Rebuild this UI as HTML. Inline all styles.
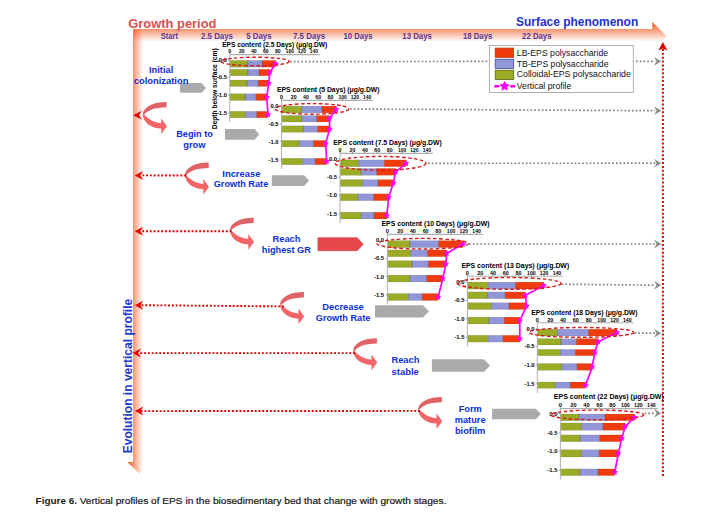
<!DOCTYPE html>
<html><head><meta charset="utf-8"><title>Figure 6</title>
<style>
html,body{margin:0;padding:0;background:#fff;}
body{width:718px;height:525px;overflow:hidden;}
svg{display:block;font-family:"Liberation Sans",sans-serif;}
</style></head>
<body>
<svg width="718" height="525" viewBox="0 0 718 525">
<defs>
<linearGradient id="gTop" gradientUnits="userSpaceOnUse" x1="0" y1="21.7" x2="0" y2="41.8">
 <stop offset="0" stop-color="#f4551a" stop-opacity="1"/>
 <stop offset="1" stop-color="#f4551a" stop-opacity="0"/>
</linearGradient>
<linearGradient id="gLeft" gradientUnits="userSpaceOnUse" x1="127.3" y1="0" x2="143" y2="0">
 <stop offset="0" stop-color="#f4551a" stop-opacity="1"/>
 <stop offset="1" stop-color="#f4551a" stop-opacity="0"/>
</linearGradient>
</defs>
<rect width="718" height="525" fill="#fff"/>
<path d="M133,28.9 L652.2,28.9 L652.2,21.7 L666.8,36.6 L652.2,51.5 L652.2,44.3 L133,44.3 Z" fill="url(#gTop)"/>
<path d="M133,28.9 L133,462 L127.3,462 L139,473.5 L150.7,462 L145,462 L145,28.9 Z" fill="url(#gLeft)"/>
<text x="128.2" y="27.5" font-size="12.6" fill="#de4f4f" font-weight="bold" text-anchor="start" textLength="88.3" lengthAdjust="spacingAndGlyphs">Growth period</text>
<text x="516" y="26.3" font-size="12.2" fill="#1f30d0" font-weight="bold" text-anchor="start" textLength="122.2" lengthAdjust="spacingAndGlyphs">Surface phenomenon</text>
<text x="160.8" y="38.6" font-size="8.2" fill="#5a3592" font-weight="bold" text-anchor="start" textLength="17.2" lengthAdjust="spacingAndGlyphs">Start</text>
<text x="201" y="38.6" font-size="8.2" fill="#5a3592" font-weight="bold" text-anchor="start" textLength="32" lengthAdjust="spacingAndGlyphs">2.5 Days</text>
<text x="246.2" y="38.6" font-size="8.2" fill="#5a3592" font-weight="bold" text-anchor="start" textLength="25.4" lengthAdjust="spacingAndGlyphs">5 Days</text>
<text x="293" y="38.6" font-size="8.2" fill="#5a3592" font-weight="bold" text-anchor="start" textLength="32.1" lengthAdjust="spacingAndGlyphs">7.5 Days</text>
<text x="343.6" y="38.6" font-size="8.2" fill="#5a3592" font-weight="bold" text-anchor="start" textLength="29.0" lengthAdjust="spacingAndGlyphs">10 Days</text>
<text x="402.3" y="38.6" font-size="8.2" fill="#5a3592" font-weight="bold" text-anchor="start" textLength="29.6" lengthAdjust="spacingAndGlyphs">13 Days</text>
<text x="463" y="38.6" font-size="8.2" fill="#5a3592" font-weight="bold" text-anchor="start" textLength="29.3" lengthAdjust="spacingAndGlyphs">18 Days</text>
<text x="522.1" y="38.6" font-size="8.2" fill="#5a3592" font-weight="bold" text-anchor="start" textLength="29.4" lengthAdjust="spacingAndGlyphs">22 Days</text>
<text transform="translate(131.9,453.3) rotate(-90)" font-size="13" fill="#1e3ad0" font-weight="bold" textLength="154.5" lengthAdjust="spacingAndGlyphs">Evolution in vertical profile</text>
<line x1="662.9" y1="476" x2="662.9" y2="49" stroke="#dd0000" stroke-width="2" stroke-dasharray="2,1.9"/>
<polygon points="662.9,41.9 667.5,50.6 662.9,48.6 658.3,50.6" fill="#e00000"/>
<polygon points="180,83.1 201.5,83.1 205.9,87.94999999999999 201.5,92.8 180,92.8" fill="#aaaaaa" stroke="none" stroke-width="0.6"/>
<polygon points="225,129 254.5,129 259.3,134.35 254.5,139.7 225,139.7" fill="#aaaaaa" stroke="none" stroke-width="0.6"/>
<polygon points="271.9,175.2 304.2,175.2 309,180.55 304.2,185.9 271.9,185.9" fill="#aaaaaa" stroke="none" stroke-width="0.6"/>
<polygon points="317.9,237.7 357.2,237.7 363.3,244.2 357.2,250.7 317.9,250.7" fill="#e5474b" stroke="#d23a3e" stroke-width="0.6"/>
<polygon points="375,305.2 422.9,305.2 429,311.35 422.9,317.5 375,317.5" fill="#aaaaaa" stroke="none" stroke-width="0.6"/>
<polygon points="431.9,359.3 484,359.3 490,365.55 484,371.8 431.9,371.8" fill="#aaaaaa" stroke="none" stroke-width="0.6"/>
<polygon points="492.1,408.8 535.8,408.8 540.8,414.0 535.8,419.2 492.1,419.2" fill="#aaaaaa" stroke="none" stroke-width="0.6"/>
<g transform="translate(142.8,101.9) scale(1.0)"><path d="M23.8,0 C11,0 1,4.5 0,12 L1.4,12.6 C4,9 11,5.3 23.8,5.3 Z" fill="#e06266"/><path d="M0,12 C0,19 7,26.6 18.4,26.6 L18.4,32 L24.1,24.3 L18.4,16.3 L18.4,21.3 C10,20.6 3.6,15.5 1.4,12.6 Z" fill="#f26466"/></g>
<polygon points="133.3,115.3 141.9,110.8 138.9,115.3 141.9,119.8" fill="#e80000"/>
<g transform="translate(184.9,162.6) scale(1.0)"><path d="M23.8,0 C11,0 1,4.5 0,12 L1.4,12.6 C4,9 11,5.3 23.8,5.3 Z" fill="#e06266"/><path d="M0,12 C0,19 7,26.6 18.4,26.6 L18.4,32 L24.1,24.3 L18.4,16.3 L18.4,21.3 C10,20.6 3.6,15.5 1.4,12.6 Z" fill="#f26466"/></g>
<line x1="186" y1="175.5" x2="140.7" y2="175.4" stroke="#dd0000" stroke-width="1.9" stroke-dasharray="1.9,1.9"/>
<polygon points="134.7,175.4 143.29999999999998,170.9 140.29999999999998,175.4 143.29999999999998,179.9" fill="#e80000"/>
<g transform="translate(229.9,217.7) scale(1.0)"><path d="M23.8,0 C11,0 1,4.5 0,12 L1.4,12.6 C4,9 11,5.3 23.8,5.3 Z" fill="#e06266"/><path d="M0,12 C0,19 7,26.6 18.4,26.6 L18.4,32 L24.1,24.3 L18.4,16.3 L18.4,21.3 C10,20.6 3.6,15.5 1.4,12.6 Z" fill="#f26466"/></g>
<line x1="231.5" y1="231.3" x2="140.7" y2="231.3" stroke="#dd0000" stroke-width="1.9" stroke-dasharray="1.9,1.9"/>
<polygon points="134.7,231.3 143.29999999999998,226.8 140.29999999999998,231.3 143.29999999999998,235.8" fill="#e80000"/>
<g transform="translate(280.1,292.1) scale(1.0)"><path d="M23.8,0 C11,0 1,4.5 0,12 L1.4,12.6 C4,9 11,5.3 23.8,5.3 Z" fill="#e06266"/><path d="M0,12 C0,19 7,26.6 18.4,26.6 L18.4,32 L24.1,24.3 L18.4,16.3 L18.4,21.3 C10,20.6 3.6,15.5 1.4,12.6 Z" fill="#f26466"/></g>
<line x1="284" y1="306.4" x2="140.7" y2="305.2" stroke="#dd0000" stroke-width="1.9" stroke-dasharray="1.9,1.9"/>
<polygon points="134.7,305.2 143.29999999999998,300.7 140.29999999999998,305.2 143.29999999999998,309.7" fill="#e80000"/>
<g transform="translate(353.1,338.3) scale(1.0)"><path d="M23.8,0 C11,0 1,4.5 0,12 L1.4,12.6 C4,9 11,5.3 23.8,5.3 Z" fill="#e06266"/><path d="M0,12 C0,19 7,26.6 18.4,26.6 L18.4,32 L24.1,24.3 L18.4,16.3 L18.4,21.3 C10,20.6 3.6,15.5 1.4,12.6 Z" fill="#f26466"/></g>
<line x1="355" y1="353.1" x2="138.5" y2="353.1" stroke="#dd0000" stroke-width="1.9" stroke-dasharray="1.9,1.9"/>
<polygon points="132.5,353.1 141.1,348.6 138.1,353.1 141.1,357.6" fill="#e80000"/>
<g transform="translate(418.1,397) scale(1.0)"><path d="M23.8,0 C11,0 1,4.5 0,12 L1.4,12.6 C4,9 11,5.3 23.8,5.3 Z" fill="#e06266"/><path d="M0,12 C0,19 7,26.6 18.4,26.6 L18.4,32 L24.1,24.3 L18.4,16.3 L18.4,21.3 C10,20.6 3.6,15.5 1.4,12.6 Z" fill="#f26466"/></g>
<line x1="420" y1="410.9" x2="140.9" y2="411.1" stroke="#dd0000" stroke-width="1.9" stroke-dasharray="1.9,1.9"/>
<polygon points="134.9,411.1 143.5,406.6 140.5,411.1 143.5,415.6" fill="#e80000"/>
<text transform="translate(217.3,129.3) rotate(-90)" font-size="6.7" font-weight="bold" fill="#000" textLength="81" lengthAdjust="spacingAndGlyphs">Depth below surface (cm)</text>
<text x="222.2" y="46.50" font-size="7.0" fill="#000" font-weight="bold" text-anchor="start" textLength="105.1" lengthAdjust="spacingAndGlyphs">EPS content (2.5 Days) (μg/g.DW)</text>
<text x="229.80" y="53.20" font-size="5.76" fill="#000" font-weight="bold" text-anchor="middle" textLength="2.94" lengthAdjust="spacingAndGlyphs">0</text>
<text x="241.80" y="53.20" font-size="5.76" fill="#000" font-weight="bold" text-anchor="middle" textLength="5.64" lengthAdjust="spacingAndGlyphs">20</text>
<text x="253.80" y="53.20" font-size="5.76" fill="#000" font-weight="bold" text-anchor="middle" textLength="5.64" lengthAdjust="spacingAndGlyphs">40</text>
<text x="265.80" y="53.20" font-size="5.76" fill="#000" font-weight="bold" text-anchor="middle" textLength="5.64" lengthAdjust="spacingAndGlyphs">60</text>
<text x="277.80" y="53.20" font-size="5.76" fill="#000" font-weight="bold" text-anchor="middle" textLength="5.64" lengthAdjust="spacingAndGlyphs">80</text>
<text x="289.80" y="53.20" font-size="5.76" fill="#000" font-weight="bold" text-anchor="middle" textLength="8.04" lengthAdjust="spacingAndGlyphs">100</text>
<text x="301.80" y="53.20" font-size="5.76" fill="#000" font-weight="bold" text-anchor="middle" textLength="8.04" lengthAdjust="spacingAndGlyphs">120</text>
<text x="313.80" y="53.20" font-size="5.76" fill="#000" font-weight="bold" text-anchor="middle" textLength="8.04" lengthAdjust="spacingAndGlyphs">140</text>
<line x1="229.8" y1="54.6" x2="319.80" y2="54.6" stroke="#b0b0b0" stroke-width="1.1"/>
<line x1="229.80" y1="54.6" x2="229.80" y2="53.2" stroke="#707070" stroke-width="0.7"/>
<line x1="241.80" y1="54.6" x2="241.80" y2="53.2" stroke="#707070" stroke-width="0.7"/>
<line x1="253.80" y1="54.6" x2="253.80" y2="53.2" stroke="#707070" stroke-width="0.7"/>
<line x1="265.80" y1="54.6" x2="265.80" y2="53.2" stroke="#707070" stroke-width="0.7"/>
<line x1="277.80" y1="54.6" x2="277.80" y2="53.2" stroke="#707070" stroke-width="0.7"/>
<line x1="289.80" y1="54.6" x2="289.80" y2="53.2" stroke="#707070" stroke-width="0.7"/>
<line x1="301.80" y1="54.6" x2="301.80" y2="53.2" stroke="#707070" stroke-width="0.7"/>
<line x1="313.80" y1="54.6" x2="313.80" y2="53.2" stroke="#707070" stroke-width="0.7"/>
<rect x="229.8" y="60.4" width="18.10" height="6.80" fill="#9bab26" stroke="#000" stroke-opacity="0.18" stroke-width="0.5"/>
<rect x="247.9" y="60.4" width="14.20" height="6.80" fill="#9096d8" stroke="#000" stroke-opacity="0.12" stroke-width="0.5"/>
<rect x="262.1" y="60.4" width="13.60" height="6.80" fill="#f03c0c" stroke="#000" stroke-opacity="0.12" stroke-width="0.5"/>
<line x1="247.9" y1="60.4" x2="247.9" y2="67.2" stroke="#555" stroke-opacity="0.5" stroke-width="0.6"/>
<line x1="262.1" y1="60.4" x2="262.1" y2="67.2" stroke="#555" stroke-opacity="0.5" stroke-width="0.6"/>
<rect x="229.8" y="69.3" width="18.10" height="6.50" fill="#9bab26" stroke="#000" stroke-opacity="0.18" stroke-width="0.5"/>
<rect x="247.9" y="69.3" width="11.10" height="6.50" fill="#9096d8" stroke="#000" stroke-opacity="0.12" stroke-width="0.5"/>
<rect x="259" y="69.3" width="10.80" height="6.50" fill="#f03c0c" stroke="#000" stroke-opacity="0.12" stroke-width="0.5"/>
<line x1="247.9" y1="69.3" x2="247.9" y2="75.8" stroke="#555" stroke-opacity="0.5" stroke-width="0.6"/>
<line x1="259" y1="69.3" x2="259" y2="75.8" stroke="#555" stroke-opacity="0.5" stroke-width="0.6"/>
<rect x="229.8" y="80" width="17.20" height="6.50" fill="#9bab26" stroke="#000" stroke-opacity="0.18" stroke-width="0.5"/>
<rect x="247" y="80" width="11.20" height="6.50" fill="#9096d8" stroke="#000" stroke-opacity="0.12" stroke-width="0.5"/>
<rect x="258.2" y="80" width="10.60" height="6.50" fill="#f03c0c" stroke="#000" stroke-opacity="0.12" stroke-width="0.5"/>
<line x1="247" y1="80" x2="247" y2="86.5" stroke="#555" stroke-opacity="0.5" stroke-width="0.6"/>
<line x1="258.2" y1="80" x2="258.2" y2="86.5" stroke="#555" stroke-opacity="0.5" stroke-width="0.6"/>
<rect x="229.8" y="93.7" width="15.20" height="6.80" fill="#9bab26" stroke="#000" stroke-opacity="0.18" stroke-width="0.5"/>
<rect x="245" y="93.7" width="11.10" height="6.80" fill="#9096d8" stroke="#000" stroke-opacity="0.12" stroke-width="0.5"/>
<rect x="256.1" y="93.7" width="10.60" height="6.80" fill="#f03c0c" stroke="#000" stroke-opacity="0.12" stroke-width="0.5"/>
<line x1="245" y1="93.7" x2="245" y2="100.5" stroke="#555" stroke-opacity="0.5" stroke-width="0.6"/>
<line x1="256.1" y1="93.7" x2="256.1" y2="100.5" stroke="#555" stroke-opacity="0.5" stroke-width="0.6"/>
<rect x="229.8" y="111.3" width="15.50" height="6.50" fill="#9bab26" stroke="#000" stroke-opacity="0.18" stroke-width="0.5"/>
<rect x="245.3" y="111.3" width="11.50" height="6.50" fill="#9096d8" stroke="#000" stroke-opacity="0.12" stroke-width="0.5"/>
<rect x="256.8" y="111.3" width="11.30" height="6.50" fill="#f03c0c" stroke="#000" stroke-opacity="0.12" stroke-width="0.5"/>
<line x1="245.3" y1="111.3" x2="245.3" y2="117.8" stroke="#555" stroke-opacity="0.5" stroke-width="0.6"/>
<line x1="256.8" y1="111.3" x2="256.8" y2="117.8" stroke="#555" stroke-opacity="0.5" stroke-width="0.6"/>
<line x1="229.8" y1="54.6" x2="229.8" y2="121.77" stroke="#b0b0b0" stroke-width="1.0"/>
<line x1="228.20" y1="60.40" x2="229.8" y2="60.40" stroke="#808080" stroke-width="0.7"/>
<line x1="228.20" y1="77.00" x2="229.8" y2="77.00" stroke="#808080" stroke-width="0.7"/>
<line x1="228.20" y1="95.00" x2="229.8" y2="95.00" stroke="#808080" stroke-width="0.7"/>
<line x1="228.20" y1="113.00" x2="229.8" y2="113.00" stroke="#808080" stroke-width="0.7"/>
<text x="226.90" y="62.40" font-size="5.8" fill="#000" font-weight="bold" text-anchor="end">0.0</text>
<text x="226.90" y="79.00" font-size="5.8" fill="#000" font-weight="bold" text-anchor="end">-0.5</text>
<text x="226.90" y="97.00" font-size="5.8" fill="#000" font-weight="bold" text-anchor="end">-1.0</text>
<text x="226.90" y="115.00" font-size="5.8" fill="#000" font-weight="bold" text-anchor="end">-1.5</text>
<polyline points="275.70,63.80 269.80,72.55 268.80,83.25 266.70,97.10 268.10,114.55" fill="none" stroke="#ff00ff" stroke-width="1.7" stroke-linejoin="round"/>
<polygon points="275.70,60.40 276.70,62.42 278.93,62.75 277.32,64.33 277.70,66.55 275.70,65.50 273.70,66.55 274.08,64.33 272.47,62.75 274.70,62.42" fill="#ff00ff"/>
<polygon points="269.80,69.15 270.80,71.17 273.03,71.50 271.42,73.08 271.80,75.30 269.80,74.25 267.80,75.30 268.18,73.08 266.57,71.50 268.80,71.17" fill="#ff00ff"/>
<polygon points="268.80,79.85 269.80,81.87 272.03,82.20 270.42,83.78 270.80,86.00 268.80,84.95 266.80,86.00 267.18,83.78 265.57,82.20 267.80,81.87" fill="#ff00ff"/>
<polygon points="266.70,93.70 267.70,95.72 269.93,96.05 268.32,97.63 268.70,99.85 266.70,98.80 264.70,99.85 265.08,97.63 263.47,96.05 265.70,95.72" fill="#ff00ff"/>
<polygon points="268.10,111.15 269.10,113.17 271.33,113.50 269.72,115.08 270.10,117.30 268.10,116.25 266.10,117.30 266.48,115.08 264.87,113.50 267.10,113.17" fill="#ff00ff"/>
<ellipse cx="255.1" cy="61.5" rx="34.2" ry="4.3" fill="none" stroke="#d81a1a" stroke-width="1.4" stroke-dasharray="3.6,2.4"/>
<text x="277" y="92.00" font-size="7.0" fill="#000" font-weight="bold" text-anchor="start" textLength="102.5" lengthAdjust="spacingAndGlyphs">EPS content (5 Days) (μg/g.DW)</text>
<text x="281.50" y="98.90" font-size="5.87" fill="#000" font-weight="bold" text-anchor="middle" textLength="3.0" lengthAdjust="spacingAndGlyphs">0</text>
<text x="293.73" y="98.90" font-size="5.87" fill="#000" font-weight="bold" text-anchor="middle" textLength="5.75" lengthAdjust="spacingAndGlyphs">20</text>
<text x="305.96" y="98.90" font-size="5.87" fill="#000" font-weight="bold" text-anchor="middle" textLength="5.75" lengthAdjust="spacingAndGlyphs">40</text>
<text x="318.19" y="98.90" font-size="5.87" fill="#000" font-weight="bold" text-anchor="middle" textLength="5.75" lengthAdjust="spacingAndGlyphs">60</text>
<text x="330.42" y="98.90" font-size="5.87" fill="#000" font-weight="bold" text-anchor="middle" textLength="5.75" lengthAdjust="spacingAndGlyphs">80</text>
<text x="342.65" y="98.90" font-size="5.87" fill="#000" font-weight="bold" text-anchor="middle" textLength="8.19" lengthAdjust="spacingAndGlyphs">100</text>
<text x="354.88" y="98.90" font-size="5.87" fill="#000" font-weight="bold" text-anchor="middle" textLength="8.19" lengthAdjust="spacingAndGlyphs">120</text>
<text x="367.11" y="98.90" font-size="5.87" fill="#000" font-weight="bold" text-anchor="middle" textLength="8.19" lengthAdjust="spacingAndGlyphs">140</text>
<line x1="281.5" y1="100.4" x2="373.23" y2="100.4" stroke="#b0b0b0" stroke-width="1.1"/>
<line x1="281.50" y1="100.4" x2="281.50" y2="99.0" stroke="#707070" stroke-width="0.7"/>
<line x1="293.73" y1="100.4" x2="293.73" y2="99.0" stroke="#707070" stroke-width="0.7"/>
<line x1="305.96" y1="100.4" x2="305.96" y2="99.0" stroke="#707070" stroke-width="0.7"/>
<line x1="318.19" y1="100.4" x2="318.19" y2="99.0" stroke="#707070" stroke-width="0.7"/>
<line x1="330.42" y1="100.4" x2="330.42" y2="99.0" stroke="#707070" stroke-width="0.7"/>
<line x1="342.65" y1="100.4" x2="342.65" y2="99.0" stroke="#707070" stroke-width="0.7"/>
<line x1="354.88" y1="100.4" x2="354.88" y2="99.0" stroke="#707070" stroke-width="0.7"/>
<line x1="367.11" y1="100.4" x2="367.11" y2="99.0" stroke="#707070" stroke-width="0.7"/>
<rect x="281.5" y="106.1" width="20.30" height="6.80" fill="#9bab26" stroke="#000" stroke-opacity="0.18" stroke-width="0.5"/>
<rect x="301.8" y="106.1" width="20.10" height="6.80" fill="#9096d8" stroke="#000" stroke-opacity="0.12" stroke-width="0.5"/>
<rect x="321.9" y="106.1" width="14.30" height="6.80" fill="#f03c0c" stroke="#000" stroke-opacity="0.12" stroke-width="0.5"/>
<line x1="301.8" y1="106.1" x2="301.8" y2="112.9" stroke="#555" stroke-opacity="0.5" stroke-width="0.6"/>
<line x1="321.9" y1="106.1" x2="321.9" y2="112.9" stroke="#555" stroke-opacity="0.5" stroke-width="0.6"/>
<rect x="281.5" y="115.5" width="20.30" height="6.50" fill="#9bab26" stroke="#000" stroke-opacity="0.18" stroke-width="0.5"/>
<rect x="301.8" y="115.5" width="14.90" height="6.50" fill="#9096d8" stroke="#000" stroke-opacity="0.12" stroke-width="0.5"/>
<rect x="316.7" y="115.5" width="12.70" height="6.50" fill="#f03c0c" stroke="#000" stroke-opacity="0.12" stroke-width="0.5"/>
<line x1="301.8" y1="115.5" x2="301.8" y2="122" stroke="#555" stroke-opacity="0.5" stroke-width="0.6"/>
<line x1="316.7" y1="115.5" x2="316.7" y2="122" stroke="#555" stroke-opacity="0.5" stroke-width="0.6"/>
<rect x="281.5" y="125.8" width="22.30" height="6.50" fill="#9bab26" stroke="#000" stroke-opacity="0.18" stroke-width="0.5"/>
<rect x="303.8" y="125.8" width="13.70" height="6.50" fill="#9096d8" stroke="#000" stroke-opacity="0.12" stroke-width="0.5"/>
<rect x="317.5" y="125.8" width="12.20" height="6.50" fill="#f03c0c" stroke="#000" stroke-opacity="0.12" stroke-width="0.5"/>
<line x1="303.8" y1="125.8" x2="303.8" y2="132.3" stroke="#555" stroke-opacity="0.5" stroke-width="0.6"/>
<line x1="317.5" y1="125.8" x2="317.5" y2="132.3" stroke="#555" stroke-opacity="0.5" stroke-width="0.6"/>
<rect x="281.5" y="140.4" width="17.90" height="6.50" fill="#9bab26" stroke="#000" stroke-opacity="0.18" stroke-width="0.5"/>
<rect x="299.4" y="140.4" width="14.10" height="6.50" fill="#9096d8" stroke="#000" stroke-opacity="0.12" stroke-width="0.5"/>
<rect x="313.5" y="140.4" width="12.10" height="6.50" fill="#f03c0c" stroke="#000" stroke-opacity="0.12" stroke-width="0.5"/>
<line x1="299.4" y1="140.4" x2="299.4" y2="146.9" stroke="#555" stroke-opacity="0.5" stroke-width="0.6"/>
<line x1="313.5" y1="140.4" x2="313.5" y2="146.9" stroke="#555" stroke-opacity="0.5" stroke-width="0.6"/>
<rect x="281.5" y="158.3" width="21.00" height="6.40" fill="#9bab26" stroke="#000" stroke-opacity="0.18" stroke-width="0.5"/>
<rect x="302.5" y="158.3" width="12.60" height="6.40" fill="#9096d8" stroke="#000" stroke-opacity="0.12" stroke-width="0.5"/>
<rect x="315.1" y="158.3" width="11.70" height="6.40" fill="#f03c0c" stroke="#000" stroke-opacity="0.12" stroke-width="0.5"/>
<line x1="302.5" y1="158.3" x2="302.5" y2="164.7" stroke="#555" stroke-opacity="0.5" stroke-width="0.6"/>
<line x1="315.1" y1="158.3" x2="315.1" y2="164.7" stroke="#555" stroke-opacity="0.5" stroke-width="0.6"/>
<line x1="281.5" y1="100.4" x2="281.5" y2="168.93" stroke="#b0b0b0" stroke-width="1.0"/>
<line x1="279.90" y1="105.70" x2="281.5" y2="105.70" stroke="#808080" stroke-width="0.7"/>
<line x1="279.90" y1="123.90" x2="281.5" y2="123.90" stroke="#808080" stroke-width="0.7"/>
<line x1="279.90" y1="141.70" x2="281.5" y2="141.70" stroke="#808080" stroke-width="0.7"/>
<line x1="279.90" y1="159.90" x2="281.5" y2="159.90" stroke="#808080" stroke-width="0.7"/>
<text x="278.60" y="107.70" font-size="5.8" fill="#000" font-weight="bold" text-anchor="end">0.0</text>
<text x="278.60" y="125.90" font-size="5.8" fill="#000" font-weight="bold" text-anchor="end">-0.5</text>
<text x="278.60" y="143.70" font-size="5.8" fill="#000" font-weight="bold" text-anchor="end">-1.0</text>
<text x="278.60" y="161.90" font-size="5.8" fill="#000" font-weight="bold" text-anchor="end">-1.5</text>
<polyline points="336.20,109.50 329.40,118.75 329.70,129.05 325.60,143.65 326.80,161.50" fill="none" stroke="#ff00ff" stroke-width="1.7" stroke-linejoin="round"/>
<polygon points="336.20,106.10 337.20,108.12 339.43,108.45 337.82,110.03 338.20,112.25 336.20,111.20 334.20,112.25 334.58,110.03 332.97,108.45 335.20,108.12" fill="#ff00ff"/>
<polygon points="329.40,115.35 330.40,117.37 332.63,117.70 331.02,119.28 331.40,121.50 329.40,120.45 327.40,121.50 327.78,119.28 326.17,117.70 328.40,117.37" fill="#ff00ff"/>
<polygon points="329.70,125.65 330.70,127.67 332.93,128.00 331.32,129.58 331.70,131.80 329.70,130.75 327.70,131.80 328.08,129.58 326.47,128.00 328.70,127.67" fill="#ff00ff"/>
<polygon points="325.60,140.25 326.60,142.27 328.83,142.60 327.22,144.18 327.60,146.40 325.60,145.35 323.60,146.40 323.98,144.18 322.37,142.60 324.60,142.27" fill="#ff00ff"/>
<polygon points="326.80,158.10 327.80,160.12 330.03,160.45 328.42,162.03 328.80,164.25 326.80,163.20 324.80,164.25 325.18,162.03 323.57,160.45 325.80,160.12" fill="#ff00ff"/>
<ellipse cx="312.1" cy="108.9" rx="36.7" ry="5.3" fill="none" stroke="#d81a1a" stroke-width="1.4" stroke-dasharray="3.6,2.4"/>
<text x="333.3" y="144.90" font-size="7.0" fill="#000" font-weight="bold" text-anchor="start" textLength="108.4" lengthAdjust="spacingAndGlyphs">EPS content (7.5 Days) (μg/g.DW)</text>
<text x="340.10" y="151.70" font-size="5.95" fill="#000" font-weight="bold" text-anchor="middle" textLength="3.04" lengthAdjust="spacingAndGlyphs">0</text>
<text x="352.49" y="151.70" font-size="5.95" fill="#000" font-weight="bold" text-anchor="middle" textLength="5.82" lengthAdjust="spacingAndGlyphs">20</text>
<text x="364.88" y="151.70" font-size="5.95" fill="#000" font-weight="bold" text-anchor="middle" textLength="5.82" lengthAdjust="spacingAndGlyphs">40</text>
<text x="377.27" y="151.70" font-size="5.95" fill="#000" font-weight="bold" text-anchor="middle" textLength="5.82" lengthAdjust="spacingAndGlyphs">60</text>
<text x="389.66" y="151.70" font-size="5.95" fill="#000" font-weight="bold" text-anchor="middle" textLength="5.82" lengthAdjust="spacingAndGlyphs">80</text>
<text x="402.05" y="151.70" font-size="5.95" fill="#000" font-weight="bold" text-anchor="middle" textLength="8.3" lengthAdjust="spacingAndGlyphs">100</text>
<text x="414.44" y="151.70" font-size="5.95" fill="#000" font-weight="bold" text-anchor="middle" textLength="8.3" lengthAdjust="spacingAndGlyphs">120</text>
<text x="426.83" y="151.70" font-size="5.95" fill="#000" font-weight="bold" text-anchor="middle" textLength="8.3" lengthAdjust="spacingAndGlyphs">140</text>
<line x1="340.1" y1="153.4" x2="433.03" y2="153.4" stroke="#b0b0b0" stroke-width="1.1"/>
<line x1="340.10" y1="153.4" x2="340.10" y2="152.0" stroke="#707070" stroke-width="0.7"/>
<line x1="352.49" y1="153.4" x2="352.49" y2="152.0" stroke="#707070" stroke-width="0.7"/>
<line x1="364.88" y1="153.4" x2="364.88" y2="152.0" stroke="#707070" stroke-width="0.7"/>
<line x1="377.27" y1="153.4" x2="377.27" y2="152.0" stroke="#707070" stroke-width="0.7"/>
<line x1="389.66" y1="153.4" x2="389.66" y2="152.0" stroke="#707070" stroke-width="0.7"/>
<line x1="402.05" y1="153.4" x2="402.05" y2="152.0" stroke="#707070" stroke-width="0.7"/>
<line x1="414.44" y1="153.4" x2="414.44" y2="152.0" stroke="#707070" stroke-width="0.7"/>
<line x1="426.83" y1="153.4" x2="426.83" y2="152.0" stroke="#707070" stroke-width="0.7"/>
<rect x="340.1" y="159.9" width="18.50" height="6.80" fill="#9bab26" stroke="#000" stroke-opacity="0.18" stroke-width="0.5"/>
<rect x="358.6" y="159.9" width="25.70" height="6.80" fill="#9096d8" stroke="#000" stroke-opacity="0.12" stroke-width="0.5"/>
<rect x="384.3" y="159.9" width="21.80" height="6.80" fill="#f03c0c" stroke="#000" stroke-opacity="0.12" stroke-width="0.5"/>
<line x1="358.6" y1="159.9" x2="358.6" y2="166.7" stroke="#555" stroke-opacity="0.5" stroke-width="0.6"/>
<line x1="384.3" y1="159.9" x2="384.3" y2="166.7" stroke="#555" stroke-opacity="0.5" stroke-width="0.6"/>
<rect x="340.1" y="168.4" width="21.10" height="6.90" fill="#9bab26" stroke="#000" stroke-opacity="0.18" stroke-width="0.5"/>
<rect x="361.2" y="168.4" width="15.70" height="6.90" fill="#9096d8" stroke="#000" stroke-opacity="0.12" stroke-width="0.5"/>
<rect x="376.9" y="168.4" width="18.60" height="6.90" fill="#f03c0c" stroke="#000" stroke-opacity="0.12" stroke-width="0.5"/>
<line x1="361.2" y1="168.4" x2="361.2" y2="175.3" stroke="#555" stroke-opacity="0.5" stroke-width="0.6"/>
<line x1="376.9" y1="168.4" x2="376.9" y2="175.3" stroke="#555" stroke-opacity="0.5" stroke-width="0.6"/>
<rect x="340.1" y="179.6" width="22.40" height="6.90" fill="#9bab26" stroke="#000" stroke-opacity="0.18" stroke-width="0.5"/>
<rect x="362.5" y="179.6" width="15.50" height="6.90" fill="#9096d8" stroke="#000" stroke-opacity="0.12" stroke-width="0.5"/>
<rect x="378" y="179.6" width="15.40" height="6.90" fill="#f03c0c" stroke="#000" stroke-opacity="0.12" stroke-width="0.5"/>
<line x1="362.5" y1="179.6" x2="362.5" y2="186.5" stroke="#555" stroke-opacity="0.5" stroke-width="0.6"/>
<line x1="378" y1="179.6" x2="378" y2="186.5" stroke="#555" stroke-opacity="0.5" stroke-width="0.6"/>
<rect x="340.1" y="193.8" width="17.60" height="6.90" fill="#9bab26" stroke="#000" stroke-opacity="0.18" stroke-width="0.5"/>
<rect x="357.7" y="193.8" width="15.80" height="6.90" fill="#9096d8" stroke="#000" stroke-opacity="0.12" stroke-width="0.5"/>
<rect x="373.5" y="193.8" width="15.10" height="6.90" fill="#f03c0c" stroke="#000" stroke-opacity="0.12" stroke-width="0.5"/>
<line x1="357.7" y1="193.8" x2="357.7" y2="200.7" stroke="#555" stroke-opacity="0.5" stroke-width="0.6"/>
<line x1="373.5" y1="193.8" x2="373.5" y2="200.7" stroke="#555" stroke-opacity="0.5" stroke-width="0.6"/>
<rect x="340.1" y="212.2" width="21.10" height="6.80" fill="#9bab26" stroke="#000" stroke-opacity="0.18" stroke-width="0.5"/>
<rect x="361.2" y="212.2" width="12.80" height="6.80" fill="#9096d8" stroke="#000" stroke-opacity="0.12" stroke-width="0.5"/>
<rect x="374" y="212.2" width="12.90" height="6.80" fill="#f03c0c" stroke="#000" stroke-opacity="0.12" stroke-width="0.5"/>
<line x1="361.2" y1="212.2" x2="361.2" y2="219" stroke="#555" stroke-opacity="0.5" stroke-width="0.6"/>
<line x1="374" y1="212.2" x2="374" y2="219" stroke="#555" stroke-opacity="0.5" stroke-width="0.6"/>
<line x1="340.1" y1="153.4" x2="340.1" y2="223.05" stroke="#b0b0b0" stroke-width="1.0"/>
<line x1="338.50" y1="159.00" x2="340.1" y2="159.00" stroke="#808080" stroke-width="0.7"/>
<line x1="338.50" y1="177.00" x2="340.1" y2="177.00" stroke="#808080" stroke-width="0.7"/>
<line x1="338.50" y1="195.00" x2="340.1" y2="195.00" stroke="#808080" stroke-width="0.7"/>
<line x1="338.50" y1="213.90" x2="340.1" y2="213.90" stroke="#808080" stroke-width="0.7"/>
<text x="337.10" y="161.00" font-size="5.8" fill="#000" font-weight="bold" text-anchor="end">0.0</text>
<text x="337.10" y="179.00" font-size="5.8" fill="#000" font-weight="bold" text-anchor="end">-0.5</text>
<text x="337.10" y="197.00" font-size="5.8" fill="#000" font-weight="bold" text-anchor="end">-1.0</text>
<text x="337.10" y="215.90" font-size="5.8" fill="#000" font-weight="bold" text-anchor="end">-1.5</text>
<polyline points="406.10,163.30 395.50,171.85 393.40,183.05 388.60,197.25 386.90,215.60" fill="none" stroke="#ff00ff" stroke-width="1.7" stroke-linejoin="round"/>
<polygon points="406.10,159.90 407.10,161.92 409.33,162.25 407.72,163.83 408.10,166.05 406.10,165.00 404.10,166.05 404.48,163.83 402.87,162.25 405.10,161.92" fill="#ff00ff"/>
<polygon points="395.50,168.45 396.50,170.47 398.73,170.80 397.12,172.38 397.50,174.60 395.50,173.55 393.50,174.60 393.88,172.38 392.27,170.80 394.50,170.47" fill="#ff00ff"/>
<polygon points="393.40,179.65 394.40,181.67 396.63,182.00 395.02,183.58 395.40,185.80 393.40,184.75 391.40,185.80 391.78,183.58 390.17,182.00 392.40,181.67" fill="#ff00ff"/>
<polygon points="388.60,193.85 389.60,195.87 391.83,196.20 390.22,197.78 390.60,200.00 388.60,198.95 386.60,200.00 386.98,197.78 385.37,196.20 387.60,195.87" fill="#ff00ff"/>
<polygon points="386.90,212.20 387.90,214.22 390.13,214.55 388.52,216.13 388.90,218.35 386.90,217.30 384.90,218.35 385.28,216.13 383.67,214.55 385.90,214.22" fill="#ff00ff"/>
<ellipse cx="380.5" cy="163.3" rx="45.5" ry="6.9" fill="none" stroke="#d81a1a" stroke-width="1.4" stroke-dasharray="3.6,2.4"/>
<text x="381.4" y="226.10" font-size="7.0" fill="#000" font-weight="bold" text-anchor="start" textLength="108.1" lengthAdjust="spacingAndGlyphs">EPS content (10 Days) (μg/g.DW)</text>
<text x="387.40" y="233.30" font-size="6.12" fill="#000" font-weight="bold" text-anchor="middle" textLength="3.12" lengthAdjust="spacingAndGlyphs">0</text>
<text x="400.14" y="233.30" font-size="6.12" fill="#000" font-weight="bold" text-anchor="middle" textLength="5.99" lengthAdjust="spacingAndGlyphs">20</text>
<text x="412.88" y="233.30" font-size="6.12" fill="#000" font-weight="bold" text-anchor="middle" textLength="5.99" lengthAdjust="spacingAndGlyphs">40</text>
<text x="425.62" y="233.30" font-size="6.12" fill="#000" font-weight="bold" text-anchor="middle" textLength="5.99" lengthAdjust="spacingAndGlyphs">60</text>
<text x="438.36" y="233.30" font-size="6.12" fill="#000" font-weight="bold" text-anchor="middle" textLength="5.99" lengthAdjust="spacingAndGlyphs">80</text>
<text x="451.10" y="233.30" font-size="6.12" fill="#000" font-weight="bold" text-anchor="middle" textLength="8.54" lengthAdjust="spacingAndGlyphs">100</text>
<text x="463.84" y="233.30" font-size="6.12" fill="#000" font-weight="bold" text-anchor="middle" textLength="8.54" lengthAdjust="spacingAndGlyphs">120</text>
<text x="476.58" y="233.30" font-size="6.12" fill="#000" font-weight="bold" text-anchor="middle" textLength="8.54" lengthAdjust="spacingAndGlyphs">140</text>
<line x1="387.4" y1="234.4" x2="482.95" y2="234.4" stroke="#b0b0b0" stroke-width="1.1"/>
<line x1="387.40" y1="234.4" x2="387.40" y2="233.0" stroke="#707070" stroke-width="0.7"/>
<line x1="400.14" y1="234.4" x2="400.14" y2="233.0" stroke="#707070" stroke-width="0.7"/>
<line x1="412.88" y1="234.4" x2="412.88" y2="233.0" stroke="#707070" stroke-width="0.7"/>
<line x1="425.62" y1="234.4" x2="425.62" y2="233.0" stroke="#707070" stroke-width="0.7"/>
<line x1="438.36" y1="234.4" x2="438.36" y2="233.0" stroke="#707070" stroke-width="0.7"/>
<line x1="451.10" y1="234.4" x2="451.10" y2="233.0" stroke="#707070" stroke-width="0.7"/>
<line x1="463.84" y1="234.4" x2="463.84" y2="233.0" stroke="#707070" stroke-width="0.7"/>
<line x1="476.58" y1="234.4" x2="476.58" y2="233.0" stroke="#707070" stroke-width="0.7"/>
<rect x="387.4" y="240.6" width="22.50" height="7.00" fill="#9bab26" stroke="#000" stroke-opacity="0.18" stroke-width="0.5"/>
<rect x="409.9" y="240.6" width="28.60" height="7.00" fill="#9096d8" stroke="#000" stroke-opacity="0.12" stroke-width="0.5"/>
<rect x="438.5" y="240.6" width="24.50" height="7.00" fill="#f03c0c" stroke="#000" stroke-opacity="0.12" stroke-width="0.5"/>
<line x1="409.9" y1="240.6" x2="409.9" y2="247.6" stroke="#555" stroke-opacity="0.5" stroke-width="0.6"/>
<line x1="438.5" y1="240.6" x2="438.5" y2="247.6" stroke="#555" stroke-opacity="0.5" stroke-width="0.6"/>
<rect x="387.4" y="249.9" width="23.30" height="6.80" fill="#9bab26" stroke="#000" stroke-opacity="0.18" stroke-width="0.5"/>
<rect x="410.7" y="249.9" width="16.70" height="6.80" fill="#9096d8" stroke="#000" stroke-opacity="0.12" stroke-width="0.5"/>
<rect x="427.4" y="249.9" width="19.40" height="6.80" fill="#f03c0c" stroke="#000" stroke-opacity="0.12" stroke-width="0.5"/>
<line x1="410.7" y1="249.9" x2="410.7" y2="256.7" stroke="#555" stroke-opacity="0.5" stroke-width="0.6"/>
<line x1="427.4" y1="249.9" x2="427.4" y2="256.7" stroke="#555" stroke-opacity="0.5" stroke-width="0.6"/>
<rect x="387.4" y="260.7" width="24.60" height="6.80" fill="#9bab26" stroke="#000" stroke-opacity="0.18" stroke-width="0.5"/>
<rect x="412" y="260.7" width="16.40" height="6.80" fill="#9096d8" stroke="#000" stroke-opacity="0.12" stroke-width="0.5"/>
<rect x="428.4" y="260.7" width="17.50" height="6.80" fill="#f03c0c" stroke="#000" stroke-opacity="0.12" stroke-width="0.5"/>
<line x1="412" y1="260.7" x2="412" y2="267.5" stroke="#555" stroke-opacity="0.5" stroke-width="0.6"/>
<line x1="428.4" y1="260.7" x2="428.4" y2="267.5" stroke="#555" stroke-opacity="0.5" stroke-width="0.6"/>
<rect x="387.4" y="275.1" width="22.50" height="6.90" fill="#9bab26" stroke="#000" stroke-opacity="0.18" stroke-width="0.5"/>
<rect x="409.9" y="275.1" width="16.80" height="6.90" fill="#9096d8" stroke="#000" stroke-opacity="0.12" stroke-width="0.5"/>
<rect x="426.7" y="275.1" width="16.10" height="6.90" fill="#f03c0c" stroke="#000" stroke-opacity="0.12" stroke-width="0.5"/>
<line x1="409.9" y1="275.1" x2="409.9" y2="282" stroke="#555" stroke-opacity="0.5" stroke-width="0.6"/>
<line x1="426.7" y1="275.1" x2="426.7" y2="282" stroke="#555" stroke-opacity="0.5" stroke-width="0.6"/>
<rect x="387.4" y="293.5" width="21.10" height="7.00" fill="#9bab26" stroke="#000" stroke-opacity="0.18" stroke-width="0.5"/>
<rect x="408.5" y="293.5" width="13.70" height="7.00" fill="#9096d8" stroke="#000" stroke-opacity="0.12" stroke-width="0.5"/>
<rect x="422.2" y="293.5" width="16.00" height="7.00" fill="#f03c0c" stroke="#000" stroke-opacity="0.12" stroke-width="0.5"/>
<line x1="408.5" y1="293.5" x2="408.5" y2="300.5" stroke="#555" stroke-opacity="0.5" stroke-width="0.6"/>
<line x1="422.2" y1="293.5" x2="422.2" y2="300.5" stroke="#555" stroke-opacity="0.5" stroke-width="0.6"/>
<line x1="387.4" y1="234.4" x2="387.4" y2="304.15" stroke="#b0b0b0" stroke-width="1.0"/>
<line x1="385.80" y1="240.10" x2="387.4" y2="240.10" stroke="#808080" stroke-width="0.7"/>
<line x1="385.80" y1="258.40" x2="387.4" y2="258.40" stroke="#808080" stroke-width="0.7"/>
<line x1="385.80" y1="276.50" x2="387.4" y2="276.50" stroke="#808080" stroke-width="0.7"/>
<line x1="385.80" y1="295.00" x2="387.4" y2="295.00" stroke="#808080" stroke-width="0.7"/>
<text x="384.10" y="242.10" font-size="5.8" fill="#000" font-weight="bold" text-anchor="end">0.0</text>
<text x="384.10" y="260.40" font-size="5.8" fill="#000" font-weight="bold" text-anchor="end">-0.5</text>
<text x="384.10" y="278.50" font-size="5.8" fill="#000" font-weight="bold" text-anchor="end">-1.0</text>
<text x="384.10" y="297.00" font-size="5.8" fill="#000" font-weight="bold" text-anchor="end">-1.5</text>
<polyline points="463.00,244.10 446.80,253.30 445.90,264.10 442.80,278.55 438.20,297.00" fill="none" stroke="#ff00ff" stroke-width="1.7" stroke-linejoin="round"/>
<polygon points="463.00,240.70 464.00,242.72 466.23,243.05 464.62,244.63 465.00,246.85 463.00,245.80 461.00,246.85 461.38,244.63 459.77,243.05 462.00,242.72" fill="#ff00ff"/>
<polygon points="446.80,249.90 447.80,251.92 450.03,252.25 448.42,253.83 448.80,256.05 446.80,255.00 444.80,256.05 445.18,253.83 443.57,252.25 445.80,251.92" fill="#ff00ff"/>
<polygon points="445.90,260.70 446.90,262.72 449.13,263.05 447.52,264.63 447.90,266.85 445.90,265.80 443.90,266.85 444.28,264.63 442.67,263.05 444.90,262.72" fill="#ff00ff"/>
<polygon points="442.80,275.15 443.80,277.17 446.03,277.50 444.42,279.08 444.80,281.30 442.80,280.25 440.80,281.30 441.18,279.08 439.57,277.50 441.80,277.17" fill="#ff00ff"/>
<polygon points="438.20,293.60 439.20,295.62 441.43,295.95 439.82,297.53 440.20,299.75 438.20,298.70 436.20,299.75 436.58,297.53 434.97,295.95 437.20,295.62" fill="#ff00ff"/>
<ellipse cx="422.7" cy="243.7" rx="45.7" ry="5.3" fill="none" stroke="#d81a1a" stroke-width="1.4" stroke-dasharray="3.6,2.4"/>
<text x="461.4" y="268.10" font-size="7.0" fill="#000" font-weight="bold" text-anchor="start" textLength="107.8" lengthAdjust="spacingAndGlyphs">EPS content (13 Days) (μg/g.DW)</text>
<text x="467.40" y="275.30" font-size="6.14" fill="#000" font-weight="bold" text-anchor="middle" textLength="3.13" lengthAdjust="spacingAndGlyphs">0</text>
<text x="480.19" y="275.30" font-size="6.14" fill="#000" font-weight="bold" text-anchor="middle" textLength="6.01" lengthAdjust="spacingAndGlyphs">20</text>
<text x="492.98" y="275.30" font-size="6.14" fill="#000" font-weight="bold" text-anchor="middle" textLength="6.01" lengthAdjust="spacingAndGlyphs">40</text>
<text x="505.77" y="275.30" font-size="6.14" fill="#000" font-weight="bold" text-anchor="middle" textLength="6.01" lengthAdjust="spacingAndGlyphs">60</text>
<text x="518.56" y="275.30" font-size="6.14" fill="#000" font-weight="bold" text-anchor="middle" textLength="6.01" lengthAdjust="spacingAndGlyphs">80</text>
<text x="531.35" y="275.30" font-size="6.14" fill="#000" font-weight="bold" text-anchor="middle" textLength="8.57" lengthAdjust="spacingAndGlyphs">100</text>
<text x="544.14" y="275.30" font-size="6.14" fill="#000" font-weight="bold" text-anchor="middle" textLength="8.57" lengthAdjust="spacingAndGlyphs">120</text>
<text x="556.93" y="275.30" font-size="6.14" fill="#000" font-weight="bold" text-anchor="middle" textLength="8.57" lengthAdjust="spacingAndGlyphs">140</text>
<line x1="467.4" y1="276.2" x2="563.32" y2="276.2" stroke="#b0b0b0" stroke-width="1.1"/>
<line x1="467.40" y1="276.2" x2="467.40" y2="274.8" stroke="#707070" stroke-width="0.7"/>
<line x1="480.19" y1="276.2" x2="480.19" y2="274.8" stroke="#707070" stroke-width="0.7"/>
<line x1="492.98" y1="276.2" x2="492.98" y2="274.8" stroke="#707070" stroke-width="0.7"/>
<line x1="505.77" y1="276.2" x2="505.77" y2="274.8" stroke="#707070" stroke-width="0.7"/>
<line x1="518.56" y1="276.2" x2="518.56" y2="274.8" stroke="#707070" stroke-width="0.7"/>
<line x1="531.35" y1="276.2" x2="531.35" y2="274.8" stroke="#707070" stroke-width="0.7"/>
<line x1="544.14" y1="276.2" x2="544.14" y2="274.8" stroke="#707070" stroke-width="0.7"/>
<line x1="556.93" y1="276.2" x2="556.93" y2="274.8" stroke="#707070" stroke-width="0.7"/>
<rect x="467.4" y="282.1" width="21.00" height="7.00" fill="#9bab26" stroke="#000" stroke-opacity="0.18" stroke-width="0.5"/>
<rect x="488.4" y="282.1" width="27.10" height="7.00" fill="#9096d8" stroke="#000" stroke-opacity="0.12" stroke-width="0.5"/>
<rect x="515.5" y="282.1" width="28.30" height="7.00" fill="#f03c0c" stroke="#000" stroke-opacity="0.12" stroke-width="0.5"/>
<line x1="488.4" y1="282.1" x2="488.4" y2="289.1" stroke="#555" stroke-opacity="0.5" stroke-width="0.6"/>
<line x1="515.5" y1="282.1" x2="515.5" y2="289.1" stroke="#555" stroke-opacity="0.5" stroke-width="0.6"/>
<rect x="467.4" y="291.9" width="20.30" height="6.80" fill="#9bab26" stroke="#000" stroke-opacity="0.18" stroke-width="0.5"/>
<rect x="487.7" y="291.9" width="17.50" height="6.80" fill="#9096d8" stroke="#000" stroke-opacity="0.12" stroke-width="0.5"/>
<rect x="505.2" y="291.9" width="20.20" height="6.80" fill="#f03c0c" stroke="#000" stroke-opacity="0.12" stroke-width="0.5"/>
<line x1="487.7" y1="291.9" x2="487.7" y2="298.7" stroke="#555" stroke-opacity="0.5" stroke-width="0.6"/>
<line x1="505.2" y1="291.9" x2="505.2" y2="298.7" stroke="#555" stroke-opacity="0.5" stroke-width="0.6"/>
<rect x="467.4" y="302.7" width="24.10" height="6.80" fill="#9bab26" stroke="#000" stroke-opacity="0.18" stroke-width="0.5"/>
<rect x="491.5" y="302.7" width="17.40" height="6.80" fill="#9096d8" stroke="#000" stroke-opacity="0.12" stroke-width="0.5"/>
<rect x="508.9" y="302.7" width="17.70" height="6.80" fill="#f03c0c" stroke="#000" stroke-opacity="0.12" stroke-width="0.5"/>
<line x1="491.5" y1="302.7" x2="491.5" y2="309.5" stroke="#555" stroke-opacity="0.5" stroke-width="0.6"/>
<line x1="508.9" y1="302.7" x2="508.9" y2="309.5" stroke="#555" stroke-opacity="0.5" stroke-width="0.6"/>
<rect x="467.4" y="317.1" width="21.50" height="6.90" fill="#9bab26" stroke="#000" stroke-opacity="0.18" stroke-width="0.5"/>
<rect x="488.9" y="317.1" width="15.40" height="6.90" fill="#9096d8" stroke="#000" stroke-opacity="0.12" stroke-width="0.5"/>
<rect x="504.3" y="317.1" width="15.50" height="6.90" fill="#f03c0c" stroke="#000" stroke-opacity="0.12" stroke-width="0.5"/>
<line x1="488.9" y1="317.1" x2="488.9" y2="324" stroke="#555" stroke-opacity="0.5" stroke-width="0.6"/>
<line x1="504.3" y1="317.1" x2="504.3" y2="324" stroke="#555" stroke-opacity="0.5" stroke-width="0.6"/>
<rect x="467.4" y="335.3" width="21.00" height="6.80" fill="#9bab26" stroke="#000" stroke-opacity="0.18" stroke-width="0.5"/>
<rect x="488.4" y="335.3" width="14.70" height="6.80" fill="#9096d8" stroke="#000" stroke-opacity="0.12" stroke-width="0.5"/>
<rect x="503.1" y="335.3" width="16.70" height="6.80" fill="#f03c0c" stroke="#000" stroke-opacity="0.12" stroke-width="0.5"/>
<line x1="488.4" y1="335.3" x2="488.4" y2="342.1" stroke="#555" stroke-opacity="0.5" stroke-width="0.6"/>
<line x1="503.1" y1="335.3" x2="503.1" y2="342.1" stroke="#555" stroke-opacity="0.5" stroke-width="0.6"/>
<line x1="467.4" y1="276.2" x2="467.4" y2="346.15" stroke="#b0b0b0" stroke-width="1.0"/>
<line x1="465.80" y1="282.10" x2="467.4" y2="282.10" stroke="#808080" stroke-width="0.7"/>
<line x1="465.80" y1="300.40" x2="467.4" y2="300.40" stroke="#808080" stroke-width="0.7"/>
<line x1="465.80" y1="318.80" x2="467.4" y2="318.80" stroke="#808080" stroke-width="0.7"/>
<line x1="465.80" y1="337.00" x2="467.4" y2="337.00" stroke="#808080" stroke-width="0.7"/>
<text x="464.40" y="284.10" font-size="5.8" fill="#000" font-weight="bold" text-anchor="end">0.0</text>
<text x="464.40" y="302.40" font-size="5.8" fill="#000" font-weight="bold" text-anchor="end">-0.5</text>
<text x="464.40" y="320.80" font-size="5.8" fill="#000" font-weight="bold" text-anchor="end">-1.0</text>
<text x="464.40" y="339.00" font-size="5.8" fill="#000" font-weight="bold" text-anchor="end">-1.5</text>
<polyline points="543.80,285.60 525.40,295.30 526.60,306.10 519.80,320.55 519.80,338.70" fill="none" stroke="#ff00ff" stroke-width="1.7" stroke-linejoin="round"/>
<polygon points="543.80,282.20 544.80,284.22 547.03,284.55 545.42,286.13 545.80,288.35 543.80,287.30 541.80,288.35 542.18,286.13 540.57,284.55 542.80,284.22" fill="#ff00ff"/>
<polygon points="525.40,291.90 526.40,293.92 528.63,294.25 527.02,295.83 527.40,298.05 525.40,297.00 523.40,298.05 523.78,295.83 522.17,294.25 524.40,293.92" fill="#ff00ff"/>
<polygon points="526.60,302.70 527.60,304.72 529.83,305.05 528.22,306.63 528.60,308.85 526.60,307.80 524.60,308.85 524.98,306.63 523.37,305.05 525.60,304.72" fill="#ff00ff"/>
<polygon points="519.80,317.15 520.80,319.17 523.03,319.50 521.42,321.08 521.80,323.30 519.80,322.25 517.80,323.30 518.18,321.08 516.57,319.50 518.80,319.17" fill="#ff00ff"/>
<polygon points="519.80,335.30 520.80,337.32 523.03,337.65 521.42,339.23 521.80,341.45 519.80,340.40 517.80,341.45 518.18,339.23 516.57,337.65 518.80,337.32" fill="#ff00ff"/>
<ellipse cx="509.1" cy="283.4" rx="51.9" ry="5.9" fill="none" stroke="#d81a1a" stroke-width="1.4" stroke-dasharray="3.6,2.4"/>
<text x="531.3" y="314.50" font-size="7.0" fill="#000" font-weight="bold" text-anchor="start" textLength="106.2" lengthAdjust="spacingAndGlyphs">EPS content (18 Days) (μg/g.DW)</text>
<text x="537.30" y="321.50" font-size="6.17" fill="#000" font-weight="bold" text-anchor="middle" textLength="3.15" lengthAdjust="spacingAndGlyphs">0</text>
<text x="550.16" y="321.50" font-size="6.17" fill="#000" font-weight="bold" text-anchor="middle" textLength="6.04" lengthAdjust="spacingAndGlyphs">20</text>
<text x="563.02" y="321.50" font-size="6.17" fill="#000" font-weight="bold" text-anchor="middle" textLength="6.04" lengthAdjust="spacingAndGlyphs">40</text>
<text x="575.88" y="321.50" font-size="6.17" fill="#000" font-weight="bold" text-anchor="middle" textLength="6.04" lengthAdjust="spacingAndGlyphs">60</text>
<text x="588.74" y="321.50" font-size="6.17" fill="#000" font-weight="bold" text-anchor="middle" textLength="6.04" lengthAdjust="spacingAndGlyphs">80</text>
<text x="601.60" y="321.50" font-size="6.17" fill="#000" font-weight="bold" text-anchor="middle" textLength="8.62" lengthAdjust="spacingAndGlyphs">100</text>
<text x="614.46" y="321.50" font-size="6.17" fill="#000" font-weight="bold" text-anchor="middle" textLength="8.62" lengthAdjust="spacingAndGlyphs">120</text>
<text x="627.32" y="321.50" font-size="6.17" fill="#000" font-weight="bold" text-anchor="middle" textLength="8.62" lengthAdjust="spacingAndGlyphs">140</text>
<line x1="537.3" y1="322.8" x2="633.75" y2="322.8" stroke="#b0b0b0" stroke-width="1.1"/>
<line x1="537.30" y1="322.8" x2="537.30" y2="321.40000000000003" stroke="#707070" stroke-width="0.7"/>
<line x1="550.16" y1="322.8" x2="550.16" y2="321.40000000000003" stroke="#707070" stroke-width="0.7"/>
<line x1="563.02" y1="322.8" x2="563.02" y2="321.40000000000003" stroke="#707070" stroke-width="0.7"/>
<line x1="575.88" y1="322.8" x2="575.88" y2="321.40000000000003" stroke="#707070" stroke-width="0.7"/>
<line x1="588.74" y1="322.8" x2="588.74" y2="321.40000000000003" stroke="#707070" stroke-width="0.7"/>
<line x1="601.60" y1="322.8" x2="601.60" y2="321.40000000000003" stroke="#707070" stroke-width="0.7"/>
<line x1="614.46" y1="322.8" x2="614.46" y2="321.40000000000003" stroke="#707070" stroke-width="0.7"/>
<line x1="627.32" y1="322.8" x2="627.32" y2="321.40000000000003" stroke="#707070" stroke-width="0.7"/>
<rect x="537.3" y="329.2" width="20.20" height="6.80" fill="#9bab26" stroke="#000" stroke-opacity="0.18" stroke-width="0.5"/>
<rect x="557.5" y="329.2" width="30.90" height="6.80" fill="#9096d8" stroke="#000" stroke-opacity="0.12" stroke-width="0.5"/>
<rect x="588.4" y="329.2" width="28.60" height="6.80" fill="#f03c0c" stroke="#000" stroke-opacity="0.12" stroke-width="0.5"/>
<line x1="557.5" y1="329.2" x2="557.5" y2="336" stroke="#555" stroke-opacity="0.5" stroke-width="0.6"/>
<line x1="588.4" y1="329.2" x2="588.4" y2="336" stroke="#555" stroke-opacity="0.5" stroke-width="0.6"/>
<rect x="537.3" y="338.6" width="23.70" height="6.40" fill="#9bab26" stroke="#000" stroke-opacity="0.18" stroke-width="0.5"/>
<rect x="561" y="338.6" width="15.40" height="6.40" fill="#9096d8" stroke="#000" stroke-opacity="0.12" stroke-width="0.5"/>
<rect x="576.4" y="338.6" width="21.80" height="6.40" fill="#f03c0c" stroke="#000" stroke-opacity="0.12" stroke-width="0.5"/>
<line x1="561" y1="338.6" x2="561" y2="345" stroke="#555" stroke-opacity="0.5" stroke-width="0.6"/>
<line x1="576.4" y1="338.6" x2="576.4" y2="345" stroke="#555" stroke-opacity="0.5" stroke-width="0.6"/>
<rect x="537.3" y="349.4" width="23.20" height="6.30" fill="#9bab26" stroke="#000" stroke-opacity="0.18" stroke-width="0.5"/>
<rect x="560.5" y="349.4" width="14.90" height="6.30" fill="#9096d8" stroke="#000" stroke-opacity="0.12" stroke-width="0.5"/>
<rect x="575.4" y="349.4" width="19.40" height="6.30" fill="#f03c0c" stroke="#000" stroke-opacity="0.12" stroke-width="0.5"/>
<line x1="560.5" y1="349.4" x2="560.5" y2="355.7" stroke="#555" stroke-opacity="0.5" stroke-width="0.6"/>
<line x1="575.4" y1="349.4" x2="575.4" y2="355.7" stroke="#555" stroke-opacity="0.5" stroke-width="0.6"/>
<rect x="537.3" y="363.5" width="24.40" height="6.80" fill="#9bab26" stroke="#000" stroke-opacity="0.18" stroke-width="0.5"/>
<rect x="561.7" y="363.5" width="15.40" height="6.80" fill="#9096d8" stroke="#000" stroke-opacity="0.12" stroke-width="0.5"/>
<rect x="577.1" y="363.5" width="15.10" height="6.80" fill="#f03c0c" stroke="#000" stroke-opacity="0.12" stroke-width="0.5"/>
<line x1="561.7" y1="363.5" x2="561.7" y2="370.3" stroke="#555" stroke-opacity="0.5" stroke-width="0.6"/>
<line x1="577.1" y1="363.5" x2="577.1" y2="370.3" stroke="#555" stroke-opacity="0.5" stroke-width="0.6"/>
<rect x="537.3" y="382" width="18.00" height="6.30" fill="#9bab26" stroke="#000" stroke-opacity="0.18" stroke-width="0.5"/>
<rect x="555.3" y="382" width="14.90" height="6.30" fill="#9096d8" stroke="#000" stroke-opacity="0.12" stroke-width="0.5"/>
<rect x="570.2" y="382" width="15.50" height="6.30" fill="#f03c0c" stroke="#000" stroke-opacity="0.12" stroke-width="0.5"/>
<line x1="555.3" y1="382" x2="555.3" y2="388.3" stroke="#555" stroke-opacity="0.5" stroke-width="0.6"/>
<line x1="570.2" y1="382" x2="570.2" y2="388.3" stroke="#555" stroke-opacity="0.5" stroke-width="0.6"/>
<line x1="537.3" y1="322.8" x2="537.3" y2="392.85" stroke="#b0b0b0" stroke-width="1.0"/>
<line x1="535.70" y1="328.80" x2="537.3" y2="328.80" stroke="#808080" stroke-width="0.7"/>
<line x1="535.70" y1="346.30" x2="537.3" y2="346.30" stroke="#808080" stroke-width="0.7"/>
<line x1="535.70" y1="364.80" x2="537.3" y2="364.80" stroke="#808080" stroke-width="0.7"/>
<line x1="535.70" y1="383.70" x2="537.3" y2="383.70" stroke="#808080" stroke-width="0.7"/>
<text x="534.60" y="330.80" font-size="5.8" fill="#000" font-weight="bold" text-anchor="end">0.0</text>
<text x="534.60" y="348.30" font-size="5.8" fill="#000" font-weight="bold" text-anchor="end">-0.5</text>
<text x="534.60" y="366.80" font-size="5.8" fill="#000" font-weight="bold" text-anchor="end">-1.0</text>
<text x="534.60" y="385.70" font-size="5.8" fill="#000" font-weight="bold" text-anchor="end">-1.5</text>
<polyline points="617.00,332.60 598.20,341.80 594.80,352.55 592.20,366.90 585.70,385.15" fill="none" stroke="#ff00ff" stroke-width="1.7" stroke-linejoin="round"/>
<polygon points="617.00,329.20 618.00,331.22 620.23,331.55 618.62,333.13 619.00,335.35 617.00,334.30 615.00,335.35 615.38,333.13 613.77,331.55 616.00,331.22" fill="#ff00ff"/>
<polygon points="598.20,338.40 599.20,340.42 601.43,340.75 599.82,342.33 600.20,344.55 598.20,343.50 596.20,344.55 596.58,342.33 594.97,340.75 597.20,340.42" fill="#ff00ff"/>
<polygon points="594.80,349.15 595.80,351.17 598.03,351.50 596.42,353.08 596.80,355.30 594.80,354.25 592.80,355.30 593.18,353.08 591.57,351.50 593.80,351.17" fill="#ff00ff"/>
<polygon points="592.20,363.50 593.20,365.52 595.43,365.85 593.82,367.43 594.20,369.65 592.20,368.60 590.20,369.65 590.58,367.43 588.97,365.85 591.20,365.52" fill="#ff00ff"/>
<polygon points="585.70,381.75 586.70,383.77 588.93,384.10 587.32,385.68 587.70,387.90 585.70,386.85 583.70,387.90 584.08,385.68 582.47,384.10 584.70,383.77" fill="#ff00ff"/>
<ellipse cx="581.5" cy="332.4" rx="52.5" ry="4.9" fill="none" stroke="#d81a1a" stroke-width="1.4" stroke-dasharray="3.6,2.4"/>
<text x="553.8" y="399.40" font-size="7.0" fill="#000" font-weight="bold" text-anchor="start" textLength="110" lengthAdjust="spacingAndGlyphs">EPS content (22 Days) (μg/g.DW)</text>
<text x="560.40" y="406.70" font-size="6.24" fill="#000" font-weight="bold" text-anchor="middle" textLength="3.19" lengthAdjust="spacingAndGlyphs">0</text>
<text x="573.40" y="406.70" font-size="6.24" fill="#000" font-weight="bold" text-anchor="middle" textLength="6.11" lengthAdjust="spacingAndGlyphs">20</text>
<text x="586.40" y="406.70" font-size="6.24" fill="#000" font-weight="bold" text-anchor="middle" textLength="6.11" lengthAdjust="spacingAndGlyphs">40</text>
<text x="599.40" y="406.70" font-size="6.24" fill="#000" font-weight="bold" text-anchor="middle" textLength="6.11" lengthAdjust="spacingAndGlyphs">60</text>
<text x="612.40" y="406.70" font-size="6.24" fill="#000" font-weight="bold" text-anchor="middle" textLength="6.11" lengthAdjust="spacingAndGlyphs">80</text>
<text x="625.40" y="406.70" font-size="6.24" fill="#000" font-weight="bold" text-anchor="middle" textLength="8.71" lengthAdjust="spacingAndGlyphs">100</text>
<text x="638.40" y="406.70" font-size="6.24" fill="#000" font-weight="bold" text-anchor="middle" textLength="8.71" lengthAdjust="spacingAndGlyphs">120</text>
<text x="651.40" y="406.70" font-size="6.24" fill="#000" font-weight="bold" text-anchor="middle" textLength="8.71" lengthAdjust="spacingAndGlyphs">140</text>
<line x1="560.4" y1="408.6" x2="657.90" y2="408.6" stroke="#b0b0b0" stroke-width="1.1"/>
<line x1="560.40" y1="408.6" x2="560.40" y2="407.20000000000005" stroke="#707070" stroke-width="0.7"/>
<line x1="573.40" y1="408.6" x2="573.40" y2="407.20000000000005" stroke="#707070" stroke-width="0.7"/>
<line x1="586.40" y1="408.6" x2="586.40" y2="407.20000000000005" stroke="#707070" stroke-width="0.7"/>
<line x1="599.40" y1="408.6" x2="599.40" y2="407.20000000000005" stroke="#707070" stroke-width="0.7"/>
<line x1="612.40" y1="408.6" x2="612.40" y2="407.20000000000005" stroke="#707070" stroke-width="0.7"/>
<line x1="625.40" y1="408.6" x2="625.40" y2="407.20000000000005" stroke="#707070" stroke-width="0.7"/>
<line x1="638.40" y1="408.6" x2="638.40" y2="407.20000000000005" stroke="#707070" stroke-width="0.7"/>
<line x1="651.40" y1="408.6" x2="651.40" y2="407.20000000000005" stroke="#707070" stroke-width="0.7"/>
<rect x="560.4" y="414" width="18.60" height="6.70" fill="#9bab26" stroke="#000" stroke-opacity="0.18" stroke-width="0.5"/>
<rect x="579" y="414" width="25.70" height="6.70" fill="#9096d8" stroke="#000" stroke-opacity="0.12" stroke-width="0.5"/>
<rect x="604.7" y="414" width="29.80" height="6.70" fill="#f03c0c" stroke="#000" stroke-opacity="0.12" stroke-width="0.5"/>
<line x1="579" y1="414" x2="579" y2="420.7" stroke="#555" stroke-opacity="0.5" stroke-width="0.6"/>
<line x1="604.7" y1="414" x2="604.7" y2="420.7" stroke="#555" stroke-opacity="0.5" stroke-width="0.6"/>
<rect x="560.4" y="423" width="20.90" height="7.30" fill="#9bab26" stroke="#000" stroke-opacity="0.18" stroke-width="0.5"/>
<rect x="581.3" y="423" width="21.70" height="7.30" fill="#9096d8" stroke="#000" stroke-opacity="0.12" stroke-width="0.5"/>
<rect x="603" y="423" width="22.10" height="7.30" fill="#f03c0c" stroke="#000" stroke-opacity="0.12" stroke-width="0.5"/>
<line x1="581.3" y1="423" x2="581.3" y2="430.3" stroke="#555" stroke-opacity="0.5" stroke-width="0.6"/>
<line x1="603" y1="423" x2="603" y2="430.3" stroke="#555" stroke-opacity="0.5" stroke-width="0.6"/>
<rect x="560.4" y="434.9" width="19.50" height="6.80" fill="#9bab26" stroke="#000" stroke-opacity="0.18" stroke-width="0.5"/>
<rect x="579.9" y="434.9" width="19.90" height="6.80" fill="#9096d8" stroke="#000" stroke-opacity="0.12" stroke-width="0.5"/>
<rect x="599.8" y="434.9" width="22.10" height="6.80" fill="#f03c0c" stroke="#000" stroke-opacity="0.12" stroke-width="0.5"/>
<line x1="579.9" y1="434.9" x2="579.9" y2="441.7" stroke="#555" stroke-opacity="0.5" stroke-width="0.6"/>
<line x1="599.8" y1="434.9" x2="599.8" y2="441.7" stroke="#555" stroke-opacity="0.5" stroke-width="0.6"/>
<rect x="560.4" y="449.7" width="20.90" height="7.30" fill="#9bab26" stroke="#000" stroke-opacity="0.18" stroke-width="0.5"/>
<rect x="581.3" y="449.7" width="17.90" height="7.30" fill="#9096d8" stroke="#000" stroke-opacity="0.12" stroke-width="0.5"/>
<rect x="599.2" y="449.7" width="19.10" height="7.30" fill="#f03c0c" stroke="#000" stroke-opacity="0.12" stroke-width="0.5"/>
<line x1="581.3" y1="449.7" x2="581.3" y2="457" stroke="#555" stroke-opacity="0.5" stroke-width="0.6"/>
<line x1="599.2" y1="449.7" x2="599.2" y2="457" stroke="#555" stroke-opacity="0.5" stroke-width="0.6"/>
<rect x="560.4" y="468.9" width="19.50" height="6.70" fill="#9bab26" stroke="#000" stroke-opacity="0.18" stroke-width="0.5"/>
<rect x="579.9" y="468.9" width="18.10" height="6.70" fill="#9096d8" stroke="#000" stroke-opacity="0.12" stroke-width="0.5"/>
<rect x="598" y="468.9" width="16.80" height="6.70" fill="#f03c0c" stroke="#000" stroke-opacity="0.12" stroke-width="0.5"/>
<line x1="579.9" y1="468.9" x2="579.9" y2="475.6" stroke="#555" stroke-opacity="0.5" stroke-width="0.6"/>
<line x1="598" y1="468.9" x2="598" y2="475.6" stroke="#555" stroke-opacity="0.5" stroke-width="0.6"/>
<line x1="560.4" y1="408.6" x2="560.4" y2="479.63" stroke="#b0b0b0" stroke-width="1.0"/>
<line x1="558.80" y1="413.60" x2="560.4" y2="413.60" stroke="#808080" stroke-width="0.7"/>
<line x1="558.80" y1="433.00" x2="560.4" y2="433.00" stroke="#808080" stroke-width="0.7"/>
<line x1="558.80" y1="451.20" x2="560.4" y2="451.20" stroke="#808080" stroke-width="0.7"/>
<line x1="558.80" y1="470.20" x2="560.4" y2="470.20" stroke="#808080" stroke-width="0.7"/>
<text x="557.40" y="415.60" font-size="5.8" fill="#000" font-weight="bold" text-anchor="end">0.0</text>
<text x="557.40" y="435.00" font-size="5.8" fill="#000" font-weight="bold" text-anchor="end">-0.5</text>
<text x="557.40" y="453.20" font-size="5.8" fill="#000" font-weight="bold" text-anchor="end">-1.0</text>
<text x="557.40" y="472.20" font-size="5.8" fill="#000" font-weight="bold" text-anchor="end">-1.5</text>
<polyline points="634.50,417.35 625.10,426.65 621.90,438.30 618.30,453.35 614.80,472.25" fill="none" stroke="#ff00ff" stroke-width="1.7" stroke-linejoin="round"/>
<polygon points="634.50,413.95 635.50,415.97 637.73,416.30 636.12,417.88 636.50,420.10 634.50,419.05 632.50,420.10 632.88,417.88 631.27,416.30 633.50,415.97" fill="#ff00ff"/>
<polygon points="625.10,423.25 626.10,425.27 628.33,425.60 626.72,427.18 627.10,429.40 625.10,428.35 623.10,429.40 623.48,427.18 621.87,425.60 624.10,425.27" fill="#ff00ff"/>
<polygon points="621.90,434.90 622.90,436.92 625.13,437.25 623.52,438.83 623.90,441.05 621.90,440.00 619.90,441.05 620.28,438.83 618.67,437.25 620.90,436.92" fill="#ff00ff"/>
<polygon points="618.30,449.95 619.30,451.97 621.53,452.30 619.92,453.88 620.30,456.10 618.30,455.05 616.30,456.10 616.68,453.88 615.07,452.30 617.30,451.97" fill="#ff00ff"/>
<polygon points="614.80,468.85 615.80,470.87 618.03,471.20 616.42,472.78 616.80,475.00 614.80,473.95 612.80,475.00 613.18,472.78 611.57,471.20 613.80,470.87" fill="#ff00ff"/>
<ellipse cx="597.3" cy="414.9" rx="46.4" ry="4.85" fill="none" stroke="#d81a1a" stroke-width="1.4" stroke-dasharray="3.6,2.4"/>
<line x1="290" y1="61.6" x2="655.2" y2="61.3" stroke="#808080" stroke-width="1.7" stroke-dasharray="1.7,2.06"/>
<polygon points="661.2,61.3 654.0,56.9 656.6,61.3 654.0,65.7" fill="#8a8a8a"/>
<line x1="350" y1="109" x2="655.2" y2="110.7" stroke="#808080" stroke-width="1.7" stroke-dasharray="1.7,2.06"/>
<polygon points="661.2,110.7 654.0,106.3 656.6,110.7 654.0,115.10000000000001" fill="#8a8a8a"/>
<line x1="428" y1="163.3" x2="655.2" y2="163.2" stroke="#808080" stroke-width="1.7" stroke-dasharray="1.7,2.06"/>
<polygon points="661.2,163.2 654.0,158.79999999999998 656.6,163.2 654.0,167.6" fill="#8a8a8a"/>
<line x1="469" y1="244" x2="655.2" y2="244" stroke="#808080" stroke-width="1.7" stroke-dasharray="1.7,2.06"/>
<polygon points="661.2,244 654.0,239.6 656.6,244 654.0,248.4" fill="#8a8a8a"/>
<line x1="561.5" y1="284.2" x2="655.2" y2="285.2" stroke="#808080" stroke-width="1.7" stroke-dasharray="1.7,2.06"/>
<polygon points="661.2,285.2 654.0,280.8 656.6,285.2 654.0,289.59999999999997" fill="#8a8a8a"/>
<line x1="634.5" y1="333.1" x2="655.2" y2="333.2" stroke="#808080" stroke-width="1.7" stroke-dasharray="1.7,2.06"/>
<polygon points="661.2,333.2 654.0,328.8 656.6,333.2 654.0,337.59999999999997" fill="#8a8a8a"/>
<line x1="644.5" y1="413.5" x2="655.2" y2="413.2" stroke="#808080" stroke-width="1.7" stroke-dasharray="1.7,2.06"/>
<polygon points="661.2,413.2 654.0,408.8 656.6,413.2 654.0,417.59999999999997" fill="#8a8a8a"/>
<text x="148.90" y="72.8" font-size="9.6" fill="#0c30d4" font-weight="bold" text-anchor="start" textLength="24.4" lengthAdjust="spacingAndGlyphs">Initial</text>
<text x="133.70" y="83.9" font-size="9.6" fill="#0c30d4" font-weight="bold" text-anchor="start" textLength="54.7" lengthAdjust="spacingAndGlyphs">colonization</text>
<text x="176.20" y="137.2" font-size="9.6" fill="#0c30d4" font-weight="bold" text-anchor="start" textLength="36.8" lengthAdjust="spacingAndGlyphs">Begin to</text>
<text x="183.20" y="148" font-size="9.6" fill="#0c30d4" font-weight="bold" text-anchor="start" textLength="22.4" lengthAdjust="spacingAndGlyphs">grow</text>
<text x="222.30" y="176.6" font-size="9.6" fill="#0c30d4" font-weight="bold" text-anchor="start" textLength="38.1" lengthAdjust="spacingAndGlyphs">Increase</text>
<text x="213.70" y="187.4" font-size="9.6" fill="#0c30d4" font-weight="bold" text-anchor="start" textLength="54.6" lengthAdjust="spacingAndGlyphs">Growth Rate</text>
<text x="272.50" y="241.8" font-size="9.6" fill="#0c30d4" font-weight="bold" text-anchor="start" textLength="28.0" lengthAdjust="spacingAndGlyphs">Reach</text>
<text x="261.80" y="252.8" font-size="9.6" fill="#0c30d4" font-weight="bold" text-anchor="start" textLength="49.0" lengthAdjust="spacingAndGlyphs">highest GR</text>
<text x="322.30" y="310.2" font-size="9.6" fill="#0c30d4" font-weight="bold" text-anchor="start" textLength="41.5" lengthAdjust="spacingAndGlyphs">Decrease</text>
<text x="315.80" y="321.3" font-size="9.6" fill="#0c30d4" font-weight="bold" text-anchor="start" textLength="54.5" lengthAdjust="spacingAndGlyphs">Growth Rate</text>
<text x="391.40" y="362.9" font-size="9.6" fill="#0c30d4" font-weight="bold" text-anchor="start" textLength="28.0" lengthAdjust="spacingAndGlyphs">Reach</text>
<text x="391.60" y="374.5" font-size="9.6" fill="#0c30d4" font-weight="bold" text-anchor="start" textLength="27.2" lengthAdjust="spacingAndGlyphs">stable</text>
<text x="458.70" y="411.8" font-size="9.6" fill="#0c30d4" font-weight="bold" text-anchor="start" textLength="23.1" lengthAdjust="spacingAndGlyphs">Form</text>
<text x="454.70" y="422.7" font-size="9.6" fill="#0c30d4" font-weight="bold" text-anchor="start" textLength="30.9" lengthAdjust="spacingAndGlyphs">mature</text>
<text x="454.90" y="433.5" font-size="9.6" fill="#0c30d4" font-weight="bold" text-anchor="start" textLength="30.5" lengthAdjust="spacingAndGlyphs">biofilm</text>
<rect x="489.5" y="45.5" width="143.8" height="47" fill="#fff" stroke="#a8a8a8" stroke-width="0.9"/>
<rect x="495.2" y="48.1" width="18.5" height="9.2" fill="#f03c0c" stroke="#b83008" stroke-width="0.8"/>
<text x="516.8" y="55.8" font-size="8.7" fill="#111" font-weight="normal" text-anchor="start">LB-EPS polysaccharide</text>
<rect x="495.2" y="59.2" width="18.5" height="9.2" fill="#9096d8" stroke="#4a4f98" stroke-width="0.8"/>
<text x="516.8" y="66.6" font-size="8.7" fill="#111" font-weight="normal" text-anchor="start">TB-EPS polysaccharide</text>
<rect x="495.2" y="70.2" width="18.5" height="9.2" fill="#9bab26" stroke="#5a6410" stroke-width="0.8"/>
<text x="516.8" y="77.4" font-size="8.7" fill="#111" font-weight="normal" text-anchor="start">Colloidal-EPS polysaccharide</text>
<line x1="495.4" y1="86.3" x2="498.2" y2="86.3" stroke="#ff00ff" stroke-width="2.6" stroke-linecap="round"/>
<line x1="511.2" y1="86.3" x2="514" y2="86.3" stroke="#ff00ff" stroke-width="2.6" stroke-linecap="round"/>
<polygon points="504.60,80.80 506.22,84.08 509.83,84.60 507.22,87.15 507.83,90.75 504.60,89.05 501.37,90.75 501.98,87.15 499.37,84.60 502.98,84.08" fill="#ff00ff"/>
<text x="516.8" y="88.6" font-size="8.7" fill="#111" font-weight="normal" text-anchor="start">Vertical profile</text>
<text x="35.6" y="503.6" font-size="9.6" fill="#1a1a1a"><tspan font-weight="bold" textLength="41.4" lengthAdjust="spacingAndGlyphs">Figure 6.</tspan></text>
<text x="79.7" y="503.6" font-size="9.7" fill="#1a1a1a" stroke="#1a1a1a" stroke-width="0.22" textLength="366.6" lengthAdjust="spacingAndGlyphs">Vertical profiles of EPS in the biosedimentary bed that change with growth stages.</text>
</svg>
</body></html>
